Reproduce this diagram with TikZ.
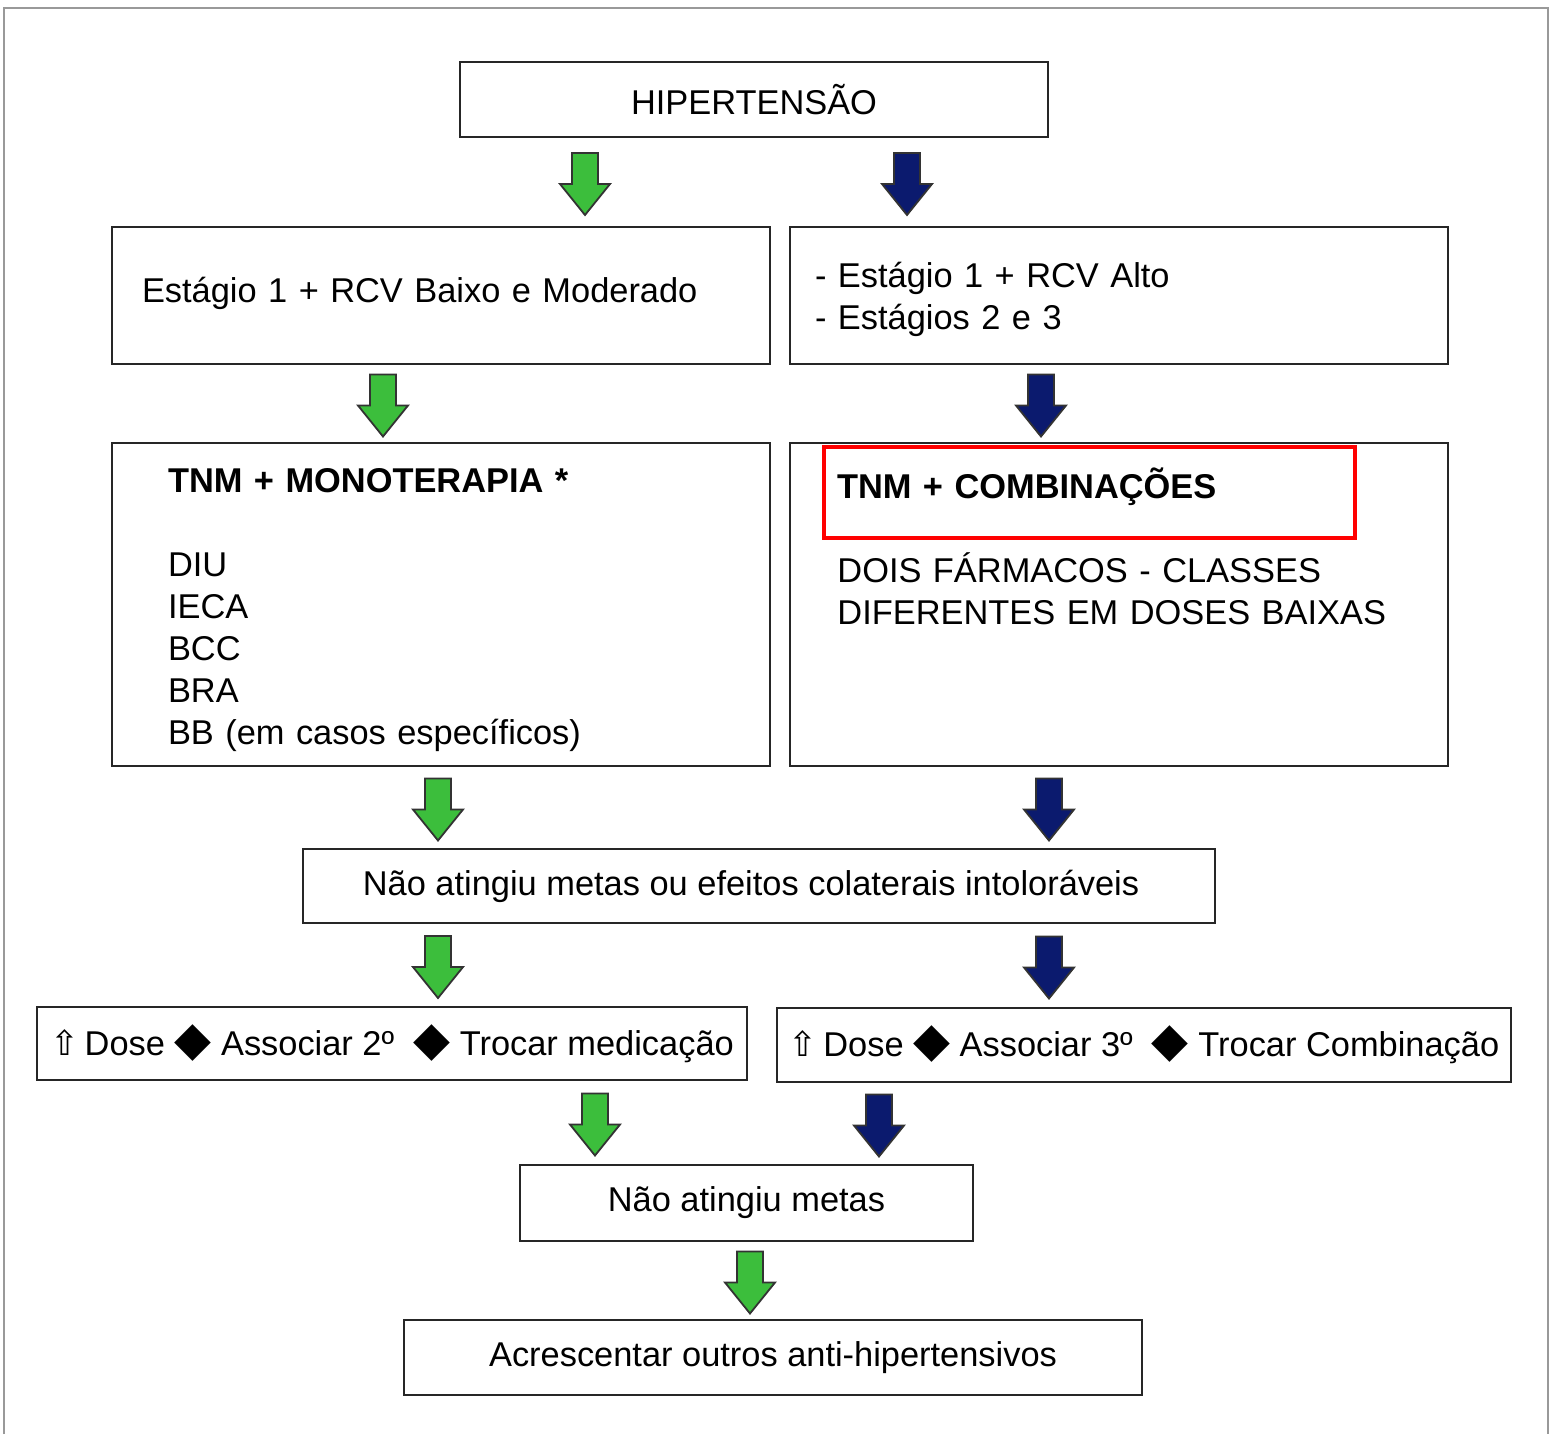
\documentclass[tikz,border=0pt]{standalone}
\usepackage{fontspec}
\setmainfont{Liberation Sans}
\newfontfamily\symfont{DejaVu Sans}
\usetikzlibrary{calc, positioning}

\definecolor{flowgreen}{HTML}{3CBE3C}
\definecolor{flownavy}{HTML}{0B1A6E}

\newcommand{\bigdiamond}{{\symfont\fontsize{24pt}{21pt}\selectfont ◆}}
\newcommand{\upwhite}{{\symfont ⇧}}

% block arrow between two boxes: colour, column, from, to
\newcommand{\flowarrow}[4]{%
  \coordinate (fa-x) at (#2,0);
  \filldraw[flow, fill=#1] let \p1=(fa-x |- #3.south), \p2=(fa-x |- #4.north),
      \p3=($(\p1)!0.5!(\p2)+(0,-1pt)$) in
    (\x3-6.5pt,\y3+15.5pt) -- (\x3+6.5pt,\y3+15.5pt) -- (\x3+6.5pt,\y3) -- (\x3+12.5pt,\y3)
    -- (\x3,\y3-15.5pt) -- (\x3-12.5pt,\y3) -- (\x3-6.5pt,\y3) -- cycle;
}

\begin{document}
\begin{tikzpicture}[
    x=0.5pt, y=-0.5pt,
    box/.style={rectangle, draw=black!85, line width=1.3pt, inner sep=0pt, font=\fontsize{17.2pt}{21pt}\selectfont},
    txt/.style={inner sep=0pt, align=left, text width=#1, font=\fontsize{17.2pt}{21pt}\selectfont},
    flow/.style={draw=black!80, line width=0.9pt, line join=miter},
    redbox/.style={rectangle, draw=red, line width=2pt}
    ]

    \useasboundingbox (0,0) rectangle (1550,1434);
    \draw[black!40, line width=1pt] (4,1434) -- (4,8) -- (1548,8) -- (1548,1434);

    % Top
    \node[box, minimum width=294pt, minimum height=37.5pt] (hip) at (754,99.5) {HIPERTENSÃO};

    % Stages
    \node[box, minimum width=329pt, minimum height=68.5pt] (stlow) at (441,295.5) {};
    \node[txt=299pt] (stlowt) at (441,293) {Estágio 1 + RCV Baixo e Moderado};
    \node[box, minimum width=329pt, minimum height=68.5pt] (sthigh) at (1119,295.5) {};
    \node[txt=304pt] (sthight) at (1119,299.5) {- Estágio 1 + RCV Alto\\- Estágios 2 e 3};

    % Treatment
    \node[box, minimum width=329pt, minimum height=161.5pt] (mono) at (441,604.5) {};
    \node[txt=273pt] (monot) at (441,610.5)
        {\textbf{TNM + MONOTERAPIA *}\\[21pt]DIU\\IECA\\BCC\\BRA\\BB (em casos específicos)};
    \node[box, minimum width=329pt, minimum height=161.5pt] (comb) at (1119,604.5) {};
    \node[redbox, minimum width=265.5pt, minimum height=45.5pt] (combt) at (1089.5,492.5) {};
    \node[txt=252.5pt, font=\fontsize{17.2pt}{21pt}\selectfont\bfseries] (combtt) at (1089.5,486.5)
        {TNM + COMBINAÇÕES};
    \node[txt=300pt, anchor=north west] (combd) at (837,552)
        {DOIS FÁRMACOS - CLASSES\\DIFERENTES EM DOSES BAIXAS};

    % Goals not reached
    \node[box, minimum width=456pt, minimum height=37pt] (mid) at (759,886) {};
    \node[inner sep=0pt, font=\fontsize{17.2pt}{21pt}\selectfont] (midt) at (751,886)
        {Não atingiu metas ou efeitos colaterais intoloráveis};
    \node[box, minimum width=355pt, minimum height=36.5pt] (dose2) at (392,1043.5)
        {\upwhite\,Dose \bigdiamond\ Associar 2º\ \ \bigdiamond\ Trocar medicação};
    \node[box, minimum width=367pt, minimum height=37pt] (dose3) at (1144,1045)
        {\upwhite\,Dose \bigdiamond\ Associar 3º\ \ \bigdiamond\ Trocar Combinação};
    \node[box, minimum width=226.5pt, minimum height=38pt] (fail) at (746.5,1203) {Não atingiu metas};
    \node[box, minimum width=369pt, minimum height=37.5pt] (addmore) at (773,1357.5)
        {Acrescentar outros anti-hipertensivos};

    % Arrows
    \flowarrow{flowgreen}{585}{hip}{stlow}
    \flowarrow{flownavy}{907}{hip}{sthigh}
    \flowarrow{flowgreen}{383}{stlow}{mono}
    \flowarrow{flownavy}{1041}{sthigh}{comb}
    \flowarrow{flowgreen}{438}{mono}{mid}
    \flowarrow{flownavy}{1049}{comb}{mid}
    \flowarrow{flowgreen}{438}{mid}{dose2}
    \flowarrow{flownavy}{1049}{mid}{dose3}
    \flowarrow{flowgreen}{595}{dose2}{fail}
    \flowarrow{flownavy}{879}{dose3}{fail}
    \flowarrow{flowgreen}{750}{fail}{addmore}

\end{tikzpicture}
\end{document}
